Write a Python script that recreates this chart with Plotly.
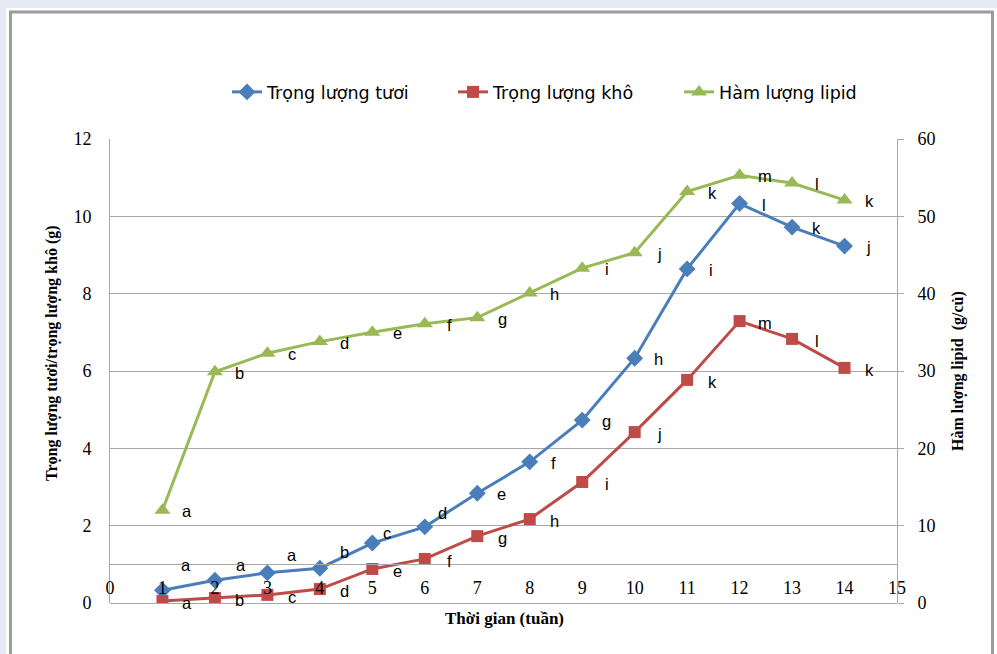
import plotly.graph_objects as go

# ---- data ----
weeks = [1, 2, 3, 4, 5, 6, 7, 8, 9, 10, 11, 12, 13, 14]
fresh_weight = [0.33, 0.59, 0.78, 0.90, 1.55, 1.97, 2.84, 3.65, 4.73, 6.33, 8.64, 10.33, 9.72, 9.23]
dry_weight = [0.05, 0.13, 0.21, 0.36, 0.88, 1.14, 1.73, 2.17, 3.13, 4.42, 5.77, 7.29, 6.83, 6.08]
lipid = [12.0, 29.9, 32.3, 33.8, 35.0, 36.1, 36.9, 40.1, 43.3, 45.3, 53.2, 55.3, 54.3, 52.1]
fresh_letters = ["a", "a", "a", "b", "c", "d", "e", "f", "g", "h", "i", "l", "k", "j"]
dry_letters = ["a", "b", "c", "d", "e", "f", "g", "h", "i", "j", "k", "m", "l", "k"]
lipid_letters = ["a", "b", "c", "d", "e", "f", "g", "h", "i", "j", "k", "m", "l", "k"]
series_names = ["Trọng lượng tươi", "Trọng lượng khô", "Hàm lượng lipid"]
x_title = "Thời gian (tuần)"
y_title = "Trọng lượng tươi/trọng lượng khô (g)"
y2_title = "Hàm lượng lipid  (g/củ)"

# ---- layout geometry (pixels) ----
W, H = 997, 654
L, R, T, B = 110, 100, 139, 51
PW, PH = W - L - R, H - T - B


def px(xp):
    return (xp - L) / PW


def py(yp):
    return (H - B - yp) / PH


BLUE = "#4a7ebb"
RED = "#be4b48"
GREEN = "#98b954"
GRID = "#a8a8a8"
SERIF = "Liberation Serif, Times New Roman, serif"
SANS = "Liberation Sans, Arial, sans-serif"
LEG_SANS = "DejaVu Sans, sans-serif"

fig = go.Figure()
fig.add_trace(go.Scatter(x=weeks, y=fresh_weight, name=series_names[0], mode="lines+markers",
                         line=dict(color=BLUE, width=3),
                         marker=dict(symbol="diamond", size=13, color=BLUE)))
fig.add_trace(go.Scatter(x=weeks, y=dry_weight, name=series_names[1], mode="lines+markers",
                         line=dict(color=RED, width=3),
                         marker=dict(symbol="square", size=12, color=RED)))
fig.add_trace(go.Scatter(x=weeks, y=lipid, name=series_names[2], mode="lines+markers",
                         line=dict(color=GREEN, width=3),
                         marker=dict(symbol="triangle-up", size=14, color=GREEN),
                         yaxis="y2"))

annotations = []
lab_font = dict(family=SANS, size=16.5, color="black")
# fresh weight labels: first points sit above-right
fresh_shift = {0: (24, 25), 1: (26, 15), 2: (25, 18), 3: (25, 16), 4: (15, 10), 5: (18, 14)}
for i, (w, v, t) in enumerate(zip(weeks, fresh_weight, fresh_letters)):
    dx, dy = fresh_shift.get(i, (24, -1))
    annotations.append(dict(x=w, y=v, xref="x", yref="y", text=t, showarrow=False,
                            xshift=dx, yshift=dy, font=lab_font))
for w, v, t in zip(weeks, dry_weight, dry_letters):
    annotations.append(dict(x=w, y=v, xref="x", yref="y", text=t, showarrow=False,
                            xshift=25, yshift=-2, font=lab_font))
for w, v, t in zip(weeks, lipid, lipid_letters):
    annotations.append(dict(x=w, y=v, xref="x", yref="y2", text=t, showarrow=False,
                            xshift=25, yshift=-1, font=lab_font))

title_font = dict(family=SERIF, size=17, color="black", weight="bold")
annotations.append(dict(x=px(505), y=py(618), xref="paper", yref="paper", text=x_title,
                        showarrow=False, font=title_font, xanchor="center", yanchor="middle"))
annotations.append(dict(x=px(52), y=py(353), xref="paper", yref="paper", text=y_title,
                        showarrow=False, font=dict(family=SERIF, size=16, color="black", weight="bold"),
                        textangle=-90, xanchor="center", yanchor="middle"))
annotations.append(dict(x=px(958), y=py(371), xref="paper", yref="paper", text=y2_title,
                        showarrow=False, font=dict(family=SERIF, size=16, color="black", weight="bold"),
                        textangle=-90, xanchor="center", yanchor="middle"))

shapes = [
    dict(type="rect", xref="paper", yref="paper", x0=px(6), x1=px(1000), y0=py(8), y1=py(700),
         fillcolor="white", line=dict(width=0), layer="below"),
    dict(type="rect", xref="paper", yref="paper", x0=px(10.5), x1=px(992.5), y0=py(12), y1=py(700),
         fillcolor="rgba(0,0,0,0)", line=dict(color="#9c9c9c", width=3), layer="below"),
]

fig.update_layout(
    width=W, height=H,
    margin=dict(l=L, r=R, t=T, b=B, autoexpand=False),
    paper_bgcolor="#e6eaf5",
    plot_bgcolor="white",
    showlegend=True,
    legend=dict(orientation="h", x=px(227), y=py(92), xanchor="left", yanchor="middle",
                font=dict(family=LEG_SANS, size=17.5, color="black"), bgcolor="rgba(0,0,0,0)",
                itemwidth=30, entrywidth=181, entrywidthmode="pixels"),
    xaxis=dict(range=[0, 15], dtick=1, tick0=0, showgrid=False, zeroline=False,
               showline=True, linecolor=GRID, linewidth=1, anchor="free", position=1 / 12,
               ticks="", ticklabelstandoff=7,
               tickfont=dict(family=SERIF, size=18, color="black")),
    yaxis=dict(range=[0, 12], dtick=2, tick0=0, showgrid=True, gridcolor=GRID, gridwidth=1,
               zeroline=True, zerolinecolor=GRID, zerolinewidth=1,
               showline=True, linecolor=GRID, linewidth=1, ticks="", ticklabelstandoff=14,
               tickfont=dict(family=SERIF, size=18, color="black")),
    yaxis2=dict(range=[0, 60], dtick=10, tick0=0, overlaying="y", side="right", showgrid=False,
                zeroline=False, showline=True, linecolor=GRID, linewidth=1,
                ticks="outside", ticklen=6, tickcolor=GRID, ticklabelstandoff=10,
                tickfont=dict(family=SERIF, size=18, color="black")),
    annotations=annotations,
    shapes=shapes,
)

fig.write_html("out.html", config={"displayModeBar": False},
               post_script="document.body.style.margin='0';")
